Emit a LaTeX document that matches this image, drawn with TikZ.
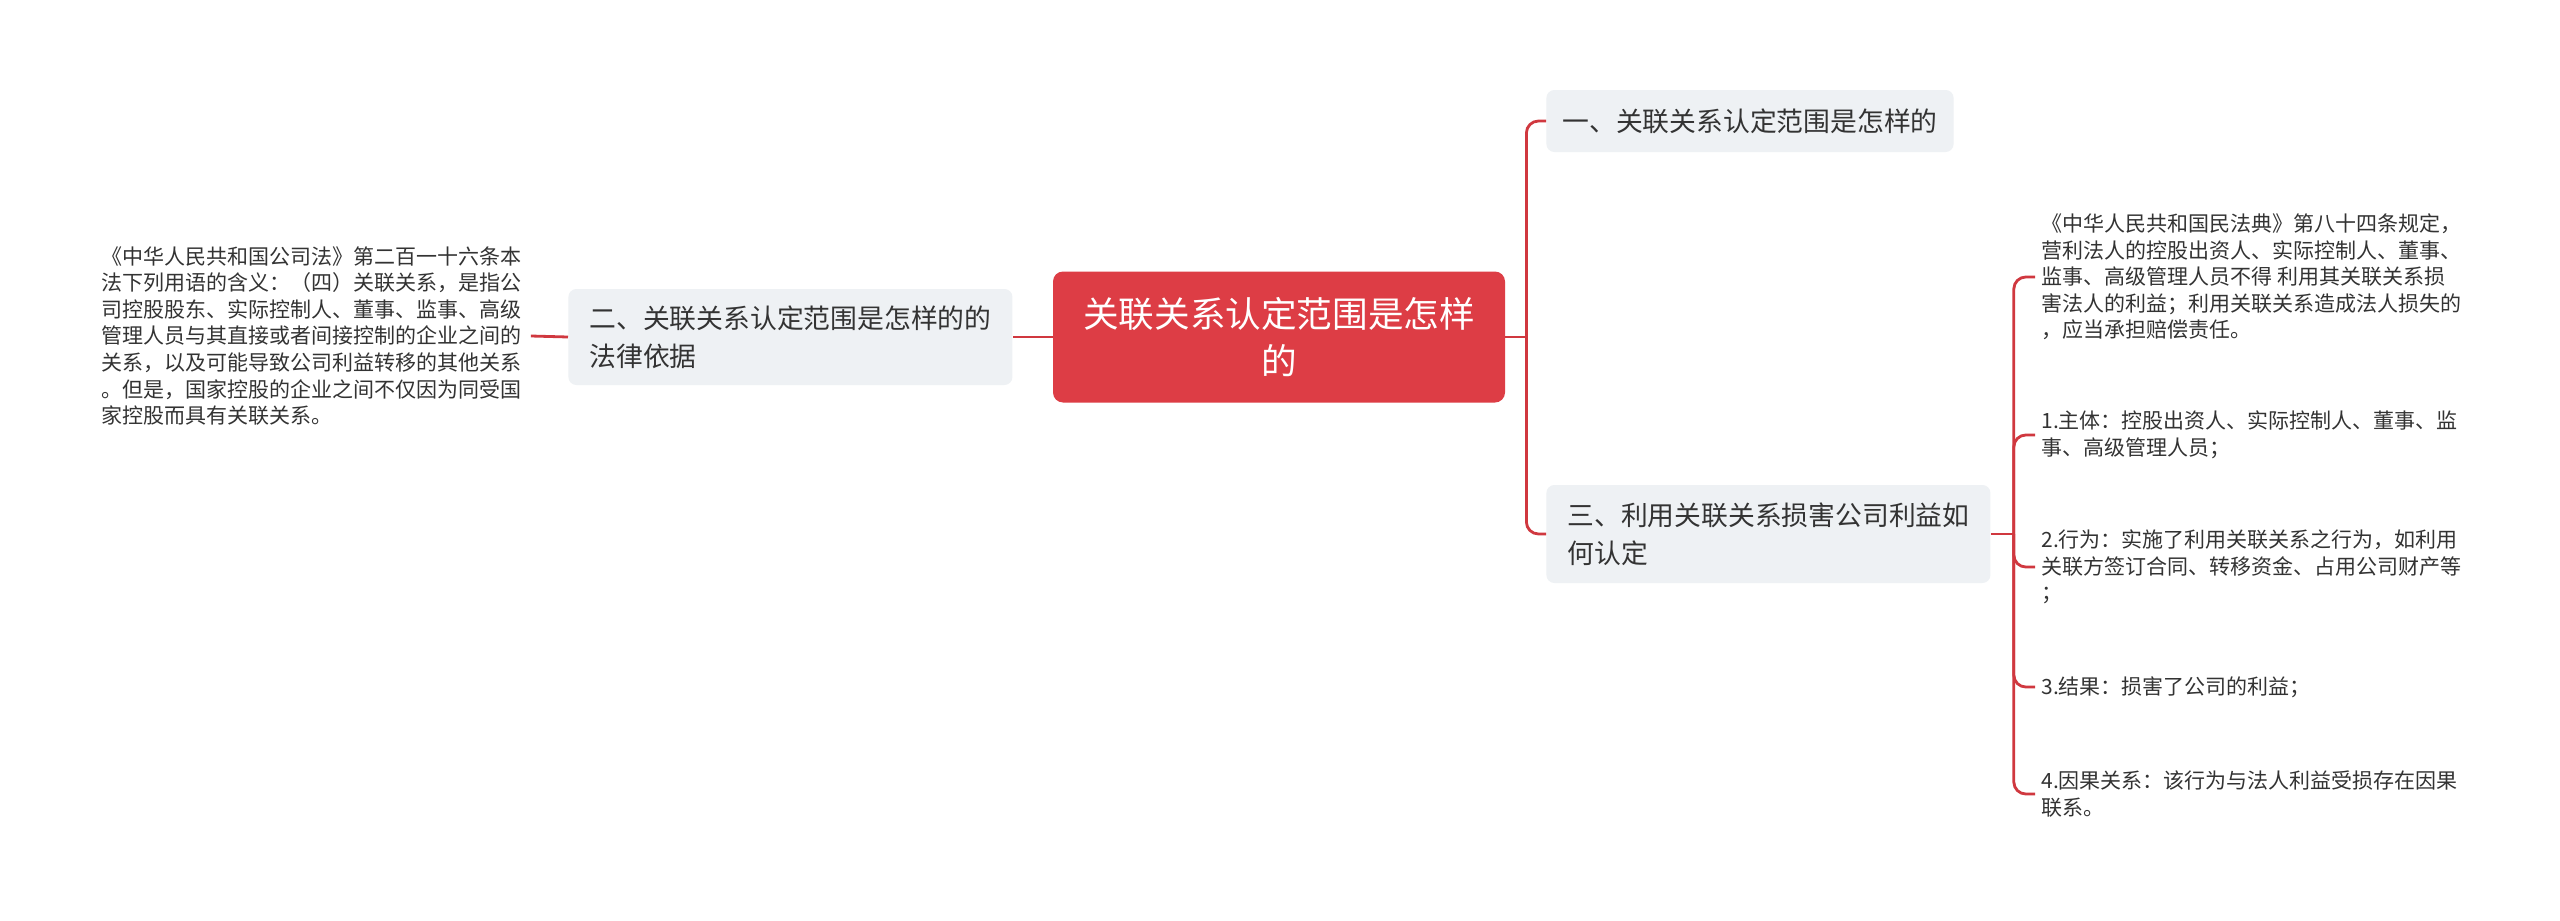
\documentclass[tikz,border=0pt]{standalone}
\usepackage{fontspec}
\setmainfont{Noto Sans CJK SC}
\definecolor{linkred}{HTML}{D0383F}
\definecolor{rootred}{HTML}{DD3D45}
\definecolor{topicgray}{HTML}{EEF1F4}
\definecolor{inkgray}{HTML}{333333}
\begin{document}
\begin{tikzpicture}[x=0.5pt, y=-0.5pt,
    link/.style={draw=linkred, line width=1.4pt},
    rootbox/.style={fill=rootred, rounded corners=5pt, text=white, align=center,
        minimum width=226pt, minimum height=65.5pt, inner sep=0pt,
        font=\fontsize{17.8}{23.7}\selectfont},
    topic/.style={fill=topicgray, rounded corners=4pt, text=inkgray, align=left,
        anchor=west, inner xsep=8pt, inner ysep=0pt,
        font=\fontsize{13.4}{18.8}\selectfont},
    leaf/.style={text=inkgray, align=left, anchor=west, inner sep=0pt,
        font=\fontsize{10.5}{13.3}\selectfont}]
    \path[use as bounding box, fill=white] (0,0) rectangle (2560,921);

    % Central topic
    \node[rootbox] (root) at (1279,337) {关联关系认定范围是怎样\\的};

    % Main topics
    \node[topic, minimum width=201.5pt, minimum height=31pt] (n1) at (1546,121)
        {一、关联关系认定范围是怎样的};
    \node[topic, minimum width=222pt, minimum height=48pt] (n2) at (568,337)
        {二、关联关系认定范围是怎样的的\\法律依据};
    \node[topic, minimum width=222pt, minimum height=49pt] (n3) at (1546,534)
        {三、利用关联关系损害公司利益如\\何认定};

    % Leaf texts
    \node[leaf, text width=214.5pt] (leftleaf) at (101,336)
        {《中华人民共和国公司法》第二百一十六条本\\法下列用语的含义：（四）关联关系，是指公\\司控股股东、实际控制人、董事、监事、高级\\管理人员与其直接或者间接控制的企业之间的\\关系，以及可能导致公司利益转移的其他关系\\。但是，国家控股的企业之间不仅因为同受国\\家控股而具有关联关系。};
    \node[leaf] (la) at (2041,277)
        {《中华人民共和国民法典》第八十四条规定，\\营利法人的控股出资人、实际控制人、董事、\\监事、高级管理人员不得 利用其关联关系损\\害法人的利益；利用关联关系造成法人损失的\\，应当承担赔偿责任。};
    \node[leaf] (lb) at (2041,435)
        {1.主体：控股出资人、实际控制人、董事、监\\事、高级管理人员；};
    \node[leaf] (lc) at (2041,567)
        {2.行为：实施了利用关联关系之行为，如利用\\关联方签订合同、转移资金、占用公司财产等\\；};
    \node[leaf] (ld) at (2041,687)
        {3.结果：损害了公司的利益；};
    \node[leaf] (le) at (2041,794)
        {4.因果关系：该行为与法人利益受损存在因果\\联系。};

    % Left branch
    \draw[link] (root.west) -- (n2.east);
    \draw[link] (leftleaf.east) -- (n2.west);

    % Right branch
    \coordinate (jr) at ([xshift=10.5pt]root.east);
    \draw[link] (root.east) -- (jr);
    \draw[link, rounded corners=6pt] (jr) |- (n1.west);
    \draw[link, rounded corners=6pt] (jr) |- (n3.west);

    % Leaves of topic three
    \coordinate (jl) at ([xshift=11.5pt]n3.east);
    \draw[link] (n3.east) -- (jl);
    \foreach \leafname in {la,lb,lc,ld,le}
        \draw[link, rounded corners=6pt, shorten >=3pt] (jl) |- (\leafname.west);
\end{tikzpicture}
\end{document}
